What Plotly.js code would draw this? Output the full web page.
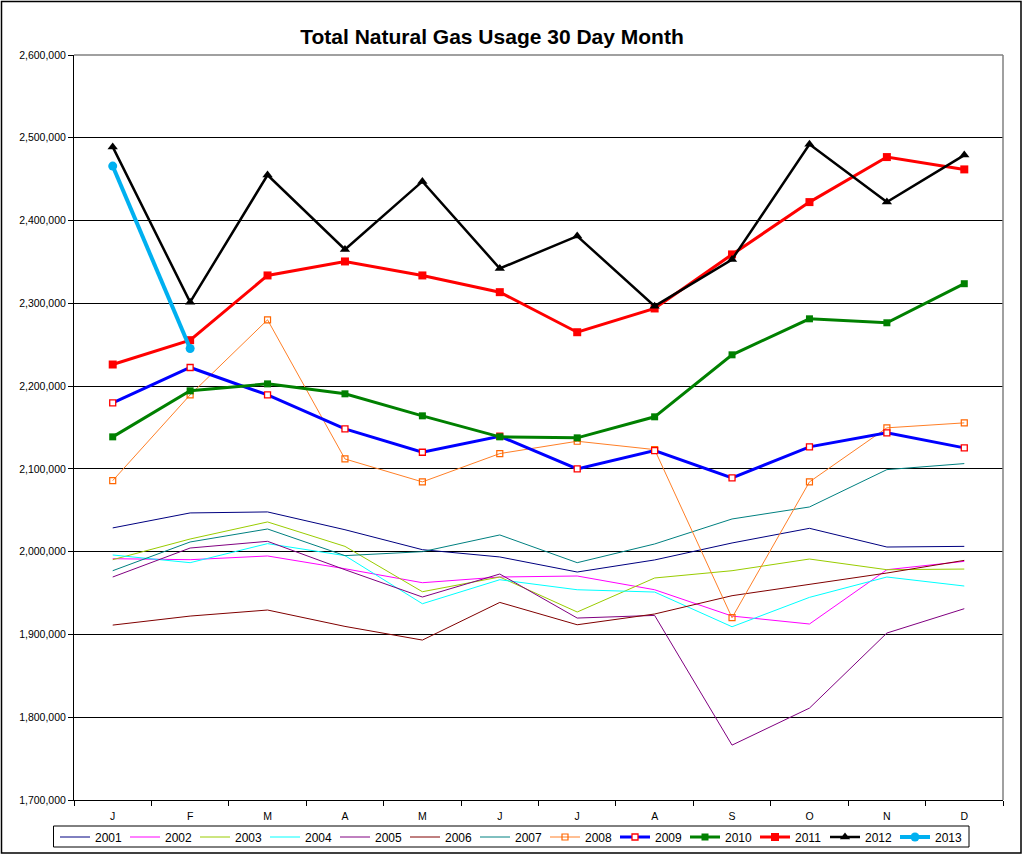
<!DOCTYPE html>
<html>
<head>
<meta charset="utf-8">
<script src="https://cdn.plot.ly/plotly-3.0.1.min.js"></script>
<style>
html,body{margin:0;padding:0;background:#fff;}
#chart{width:1025px;height:855px;}
</style>
</head>
<body>
<div id="chart"></div>
<script>
const months = ['J','F','M','A','M','J','J','A','S','O','N','D'];
const yearNames = ['2001','2002','2003','2004','2005','2006','2007','2008','2009','2010','2011','2012','2013'];

const v2001 = [2028700, 2046800, 2048000, 2026500, 2002400, 1993600, 1975400, 1990000, 2010500, 2028200, 2005600, 2006400];
const v2002 = [1991500, 1990300, 1994800, 1979400, 1962500, 1969400, 1970600, 1954000, 1922200, 1912600, 1978200, 1988300];
const v2003 = [1990300, 2015300, 2035900, 2006400, 1951600, 1969400, 1927100, 1968200, 1977000, 1991100, 1978200, 1979000];
const v2004 = [1996000, 1986700, 2009700, 1995200, 1937100, 1966100, 1954000, 1951200, 1909300, 1944800, 1969400, 1958500];
const v2005 = [1969400, 2004400, 2012500, 1978200, 1945200, 1973000, 1919800, 1923000, 1766300, 1811000, 1901700, 1931100];
const v2006 = [1911300, 1922200, 1929500, 1909700, 1893200, 1938700, 1911700, 1924700, 1946800, 1960100, 1974200, 1989500];
const v2007 = [1977000, 2011700, 2027400, 1995200, 2000000, 2020200, 1986700, 2009300, 2039500, 2054000, 2099100, 2106400];
const v2008 = [2085800, 2189400, 2280100, 2112000, 2084300, 2118500, 2133400, 2123300, 1920200, 2084300, 2149600, 2155600];
const v2009 = [2179800, 2222500, 2189400, 2148300, 2120100, 2139400, 2100000, 2122100, 2089100, 2126600, 2143500, 2125400];
const v2010 = [2138700, 2194300, 2202700, 2190700, 2164100, 2138700, 2137500, 2162900, 2237800, 2281300, 2276500, 2323700];
const v2011 = [2226100, 2255500, 2333700, 2350600, 2333700, 2313500, 2265100, 2293800, 2359100, 2422300, 2476700, 2461800];
const v2012 = [2489000, 2301400, 2455000, 2365100, 2447300, 2342100, 2381200, 2296600, 2353000, 2492100, 2422300, 2479100];
const v2013 = [2465800, 2245400];

const seriesValues = [v2001, v2002, v2003, v2004, v2005, v2006, v2007, v2008, v2009, v2010, v2011, v2012, v2013];

const styles = [
  {color:'#000080', width:1, mode:'lines'},
  {color:'#FF00FF', width:1, mode:'lines'},
  {color:'#99CC00', width:1, mode:'lines'},
  {color:'#00FFFF', width:1, mode:'lines'},
  {color:'#800080', width:1, mode:'lines'},
  {color:'#800000', width:1, mode:'lines'},
  {color:'#008080', width:1, mode:'lines'},
  {color:'#FF7F27', width:1, mode:'lines+markers', marker:{symbol:'square-open', size:6, color:'#FF6600', line:{width:1.2}}},
  {color:'#0000FF', width:3, mode:'lines+markers', marker:{symbol:'square', size:6, color:'#FFFFFF', line:{width:1.3, color:'#FF0000'}}},
  {color:'#008000', width:3, mode:'lines+markers', marker:{symbol:'square', size:7, color:'#008000'}},
  {color:'#FF0000', width:3, mode:'lines+markers', marker:{symbol:'square', size:8, color:'#FF0000'}},
  {color:'#000000', width:2.5, mode:'lines+markers', marker:{symbol:'triangle-up', size:9, color:'#000000'}},
  {color:'#00B0F0', width:4, mode:'lines+markers', marker:{symbol:'circle', size:9, color:'#00B0F0'}}
];

const traces = seriesValues.map((vals, i) => {
  const s = styles[i];
  const t = {
    type:'scatter',
    x: vals.map((_, k) => k),
    y: vals,
    name: yearNames[i],
    mode: s.mode,
    line: {color: s.color, width: s.width},
    hoverinfo: 'name+y'
  };
  if (s.marker) t.marker = s.marker;
  return t;
});

const L = 74, R = 1003, T = 55, B = 800, W = 1025, H = 855;
const pw = R - L, ph = B - T;
const px = v => (v - L) / pw;
const py = v => (B - v) / ph;

const layout = {
  width: W, height: H,
  margin: {l: L, r: W - R, t: T, b: H - B, pad: 0, autoexpand: false},
  paper_bgcolor: '#FFFFFF',
  plot_bgcolor: '#FFFFFF',
  font: {family: 'Liberation Sans, Arial, sans-serif', color: '#000000'},
  title: {
    text: '<b>Total Natural Gas Usage 30 Day Month</b>',
    font: {size: 21, family: 'Liberation Sans, Arial, sans-serif', color: '#000000'},
    x: 492 / W, xanchor: 'center', xref: 'container',
    y: 1 - 37 / H, yanchor: 'middle', yref: 'container'
  },
  showlegend: true,
  legend: {
    orientation: 'h',
    x: px(55), xanchor: 'left',
    y: -(822.5 - B) / ph, yanchor: 'top',
    bgcolor: 'rgba(0,0,0,0)',
    borderwidth: 0,
    font: {size: 12, family: 'Liberation Sans, Arial, sans-serif'},
    entrywidth: 25, entrywidthmode: 'pixels',
    traceorder: 'normal',
    itemclick: false, itemdoubleclick: false
  },
  xaxis: {
    range: [-0.5, 11.5],
    tickmode: 'array',
    tickvals: months.map((_, k) => k),
    ticktext: months,
    ticks: '',
    showgrid: false,
    zeroline: false,
    showline: true, linecolor: '#000000', linewidth: 1,
    tickfont: {size: 10.5, color: '#000000'},
    ticklabelstandoff: 6,
    minor: {tick0: -0.5, dtick: 1, ticks: 'outside', ticklen: 5, tickcolor: '#000000', tickwidth: 1, showgrid: false},
    fixedrange: true
  },
  yaxis: {
    range: [1700000, 2600000],
    dtick: 100000,
    tick0: 1700000,
    tickformat: ',d',
    ticks: 'outside', ticklen: 5, tickcolor: '#000000', tickwidth: 1,
    showgrid: true, gridcolor: '#000000', gridwidth: 1,
    zeroline: false,
    showline: true, linecolor: '#000000', linewidth: 1,
    tickfont: {size: 10.5, color: '#000000'},
    fixedrange: true
  },
  shapes: [
    {type:'line', xref:'paper', yref:'paper', x0:0, x1:1, y0:1, y1:1, line:{color:'#808080', width:1.5}, layer:'above'},
    {type:'line', xref:'paper', yref:'paper', x0:1, x1:1, y0:0, y1:1, line:{color:'#808080', width:1.5}, layer:'above'},
    {type:'rect', xref:'paper', yref:'paper', x0:px(1.5), x1:px(1021), y0:py(853), y1:py(1.5), line:{color:'#000000', width:1.5}, fillcolor:'rgba(0,0,0,0)', layer:'above'},
    {type:'rect', xref:'paper', yref:'paper', x0:px(53.5), x1:px(969), y0:py(847), y1:py(826), line:{color:'#000000', width:1}, fillcolor:'rgba(0,0,0,0)', layer:'above'}
  ]
};

Plotly.newPlot('chart', traces, layout, {displayModeBar: false, staticPlot: true});
</script>
</body>
</html>
